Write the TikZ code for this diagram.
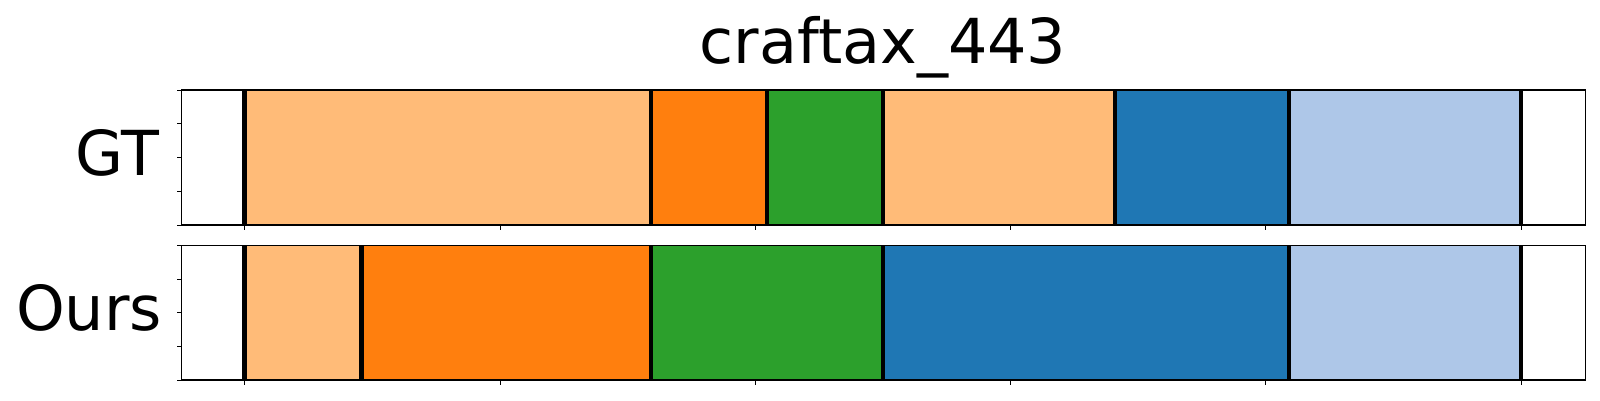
\documentclass[tikz,border=0pt]{standalone}
\usepackage{fontspec}
\setmainfont{DejaVu Sans}
\definecolor{lorange}{HTML}{FFBB78}
\definecolor{dorange}{HTML}{FF7F0E}
\definecolor{tgreen}{HTML}{2CA02C}
\definecolor{tblue}{HTML}{1F77B4}
\definecolor{lblue}{HTML}{AEC7E8}
\begin{document}
\begin{tikzpicture}[x=1pt,y=1pt,
  seg/.style={draw=none},
  bound/.style={line width=4.5pt,black},
  frame/.style={line width=1.3pt,black},
  tickmark/.style={line width=1pt,black},
  lbl/.style={inner sep=0pt,outer sep=0pt,font=\fontsize{62}{70}\selectfont}]
\useasboundingbox (0,0) rectangle (1600,400);
\fill[white] (0,0) rectangle (1600,400);
% helper: x = 244.7 + 255.3*t
% ---- GT axis: y from 175 (bottom) to 310 (top)
\fill[lorange] ({244.7+255.3*0},175) rectangle ({244.7+255.3*1.591},310);
\fill[dorange] ({244.7+255.3*1.591},175) rectangle ({244.7+255.3*2.045},310);
\fill[tgreen]  ({244.7+255.3*2.045},175) rectangle ({244.7+255.3*2.5},310);
\fill[lorange] ({244.7+255.3*2.5},175) rectangle ({244.7+255.3*3.408},310);
\fill[tblue]   ({244.7+255.3*3.408},175) rectangle ({244.7+255.3*4.09},310);
\fill[lblue]   ({244.7+255.3*4.09},175) rectangle ({244.7+255.3*5},310);
\foreach \t in {0,1.591,2.045,2.5,3.408,4.09,5}
  \draw[bound] ({244.7+255.3*\t},175) -- ({244.7+255.3*\t},310);
\draw[frame] (181.7,175) rectangle (1585.7,310);
\foreach \k in {0,...,4}
  \draw[tickmark] (181.7,{175+33.75*\k}) -- (176.7,{175+33.75*\k});
\foreach \k in {0,...,5}
  \draw[tickmark] ({244.7+255.3*\k},175) -- ({244.7+255.3*\k},170);
% ---- Ours axis: y from 20 (bottom) to 154.3 (top)
\fill[lorange] ({244.7+255.3*0},20) rectangle ({244.7+255.3*0.457},154.3);
\fill[dorange] ({244.7+255.3*0.457},20) rectangle ({244.7+255.3*1.591},154.3);
\fill[tgreen]  ({244.7+255.3*1.591},20) rectangle ({244.7+255.3*2.5},154.3);
\fill[tblue]   ({244.7+255.3*2.5},20) rectangle ({244.7+255.3*4.09},154.3);
\fill[lblue]   ({244.7+255.3*4.09},20) rectangle ({244.7+255.3*5},154.3);
\foreach \t in {0,0.457,1.591,2.5,4.09,5}
  \draw[bound] ({244.7+255.3*\t},20) -- ({244.7+255.3*\t},154.3);
\draw[frame] (181.7,20) rectangle (1585.7,154.3);
\foreach \k in {0,...,4}
  \draw[tickmark] (181.7,{20+33.575*\k}) -- (176.7,{20+33.575*\k});
\foreach \k in {0,...,5}
  \draw[tickmark] ({244.7+255.3*\k},20) -- ({244.7+255.3*\k},15);
% ---- labels
\node[lbl,anchor=base east] (gt) at (159,225) {GT};
\node[lbl,anchor=base east] (ours) at (162,69.5) {Ours};
\node[inner sep=0pt,outer sep=0pt,font=\fontsize{62}{70}\selectfont,anchor=base] (title) at (883,336.7) {craftax\_443};
\end{tikzpicture}
\end{document}
